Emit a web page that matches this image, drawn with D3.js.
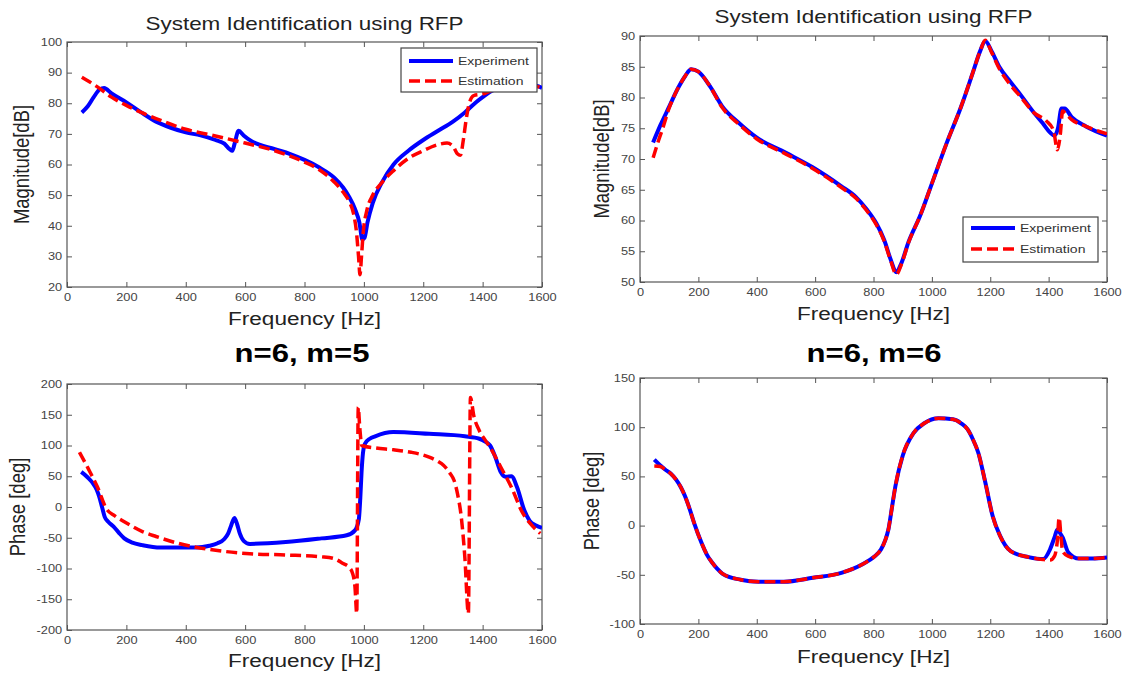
<!DOCTYPE html>
<html>
<head>
<meta charset="utf-8">
<script src="https://cdn.jsdelivr.net/npm/d3@7"></script>
<style>
  body { margin: 0; background: #fff; }
  text { font-family: "Liberation Sans", Arial, sans-serif; }
</style>
</head>
<body>
<div id="chart"></div>
<script>
// ---- data: [frequency Hz, value] ----
const freqTicks = [0, 200, 400, 600, 800, 1000, 1200, 1400, 1600];
const magTicks5 = [20, 30, 40, 50, 60, 70, 80, 90, 100];
const magTicks6 = [50, 55, 60, 65, 70, 75, 80, 85, 90];
const phaseTicks5 = [-200, -150, -100, -50, 0, 50, 100, 150, 200];
const phaseTicks6 = [-100, -50, 0, 50, 100, 150];
const seriesNames = ["Experiment", "Estimation"];

// n=6, m=5 magnitude
const magExp5 = [[50,77],[70,79],[90,82],[110,84.5],[125,85],[150,83.2],[200,80.3],[250,77],[300,74],[350,72],[400,70.5],[450,69.5],[500,68],[530,66.8],[548,65],[557,64.5],[565,67],[578,71],[595,69.5],[620,67.7],[700,65],[750,63.5],[800,61.5],[850,59],[900,55.7],[930,52.5],[950,49.5],[970,45.5],[985,41],[995,35.5],[1002,36],[1012,41],[1030,47.5],[1060,54],[1100,60],[1150,64.5],[1200,68],[1250,71],[1300,74],[1340,77],[1380,80.5],[1400,82],[1430,84],[1470,85.5],[1520,86],[1570,86],[1600,85]];
const magEst5 = [[50,88.5],[100,85.5],[150,82],[200,79.3],[250,77],[300,75],[400,71.5],[500,69.3],[600,67],[700,64.5],[800,60.8],[850,58.3],[900,54.3],[930,51],[950,48],[965,44],[975,38],[982,30],[987,24],[992,30],[998,38],[1010,45],[1030,50],[1060,54],[1100,58],[1150,62],[1200,64.5],[1250,66.5],[1280,67],[1300,66],[1315,63.5],[1325,63],[1335,68],[1345,75],[1355,80],[1370,82.5],[1400,83],[1450,85],[1500,86],[1550,86],[1600,85]];

// n=6, m=6 magnitude
const magExp6 = [[45,72.7],[70,75.5],[100,78.5],[130,81.5],[155,83.5],[175,84.6],[200,84.2],[240,81.8],[281,78.6],[340,75.8],[399,73.5],[500,71],[590,68.7],[689,65.6],[740,63.8],[775,61.9],[810,59.5],[837,56.8],[860,53.5],[878,51.6],[895,53],[920,56.5],[960,60.8],[1000,66],[1050,72.5],[1100,78.5],[1140,84],[1165,87.5],[1183,89.2],[1205,87.5],[1232,84.9],[1270,82.5],[1306,80.3],[1350,77.5],[1380,75.8],[1405,74.3],[1420,73.8],[1432,75],[1444,78.2],[1455,78.2],[1479,76.8],[1528,75.3],[1600,73.8]];
const magEst6 = [[45,70.2],[60,72.5],[80,75.3],[100,78.3],[130,81.5],[155,83.5],[175,84.6],[200,84.2],[240,81.8],[281,78.4],[340,75.6],[399,73.3],[500,70.8],[590,68.5],[689,65.4],[740,63.6],[775,61.7],[810,59.3],[837,56.6],[860,53.3],[878,51.2],[895,52.8],[920,56.4],[960,60.8],[1000,66],[1050,72.5],[1100,78.5],[1140,84],[1165,87.5],[1183,89.3],[1205,87.3],[1232,84.6],[1270,82],[1306,80],[1350,77.5],[1392,76.2],[1417,74.6],[1430,71.5],[1440,74],[1448,77.8],[1460,77.3],[1479,76.4],[1528,75.3],[1600,74.1]];

// n=6, m=5 phase
const phaseExp5 = [[48,57],[70,48],[85,40],[100,28],[109,16],[118,0],[127,-16],[139,-24],[157,-32],[175,-42],[193,-51],[220,-58],[254,-62],[314,-66],[435,-66],[480,-63],[507,-59],[530,-52],[543,-43],[553,-30],[564,-18],[573,-28],[582,-43],[595,-55],[616,-60],[737,-57],[857,-51],[942,-46],[970,-38],[983,-20],[988,15],[992,55],[997,88],[1004,103],[1020,111],[1038,115],[1099,122],[1220,119],[1340,115],[1389,111],[1410,106],[1425,100],[1443,81],[1461,57],[1479,49],[1497,50],[1516,32],[1540,-5],[1558,-22],[1580,-30],[1600,-34]];
const phaseEst5 = [[42,89],[72,62],[103,32],[133,-3],[160,-14],[193,-24],[254,-40],[300,-48],[374,-59],[495,-70],[616,-76],[737,-78],[857,-81],[900,-84],[930,-92],[950,-98],[962,-108],[970,-130],[976,-173],[981,162],[986,130],[993,100],[1038,96],[1100,93],[1159,89],[1220,81],[1250,74],[1268,68],[1290,55],[1304,43],[1316,20],[1328,-16],[1340,-81],[1352,-173],[1359,178],[1370,149],[1389,124],[1410,108],[1425,97],[1461,65],[1497,32],[1533,-8],[1570,-32],[1594,-43]];

// n=6, m=6 phase
const phaseExp6 = [[49,67],[70,61],[86,57],[105,53],[123,47],[140,39],[154,30],[170,17],[185,3],[210,-17],[230,-30],[247,-37.5],[265,-44],[283,-49],[345,-55],[407,-57],[493,-57],[592,-53],[690,-48],[764,-39],[801,-32],[826,-24],[840,-15],[851,-4],[863,18],[875,40],[900,71],[937,94],[974,104],[1023,109],[1072,108],[1100,104],[1122,98],[1140,88],[1159,74],[1183,44],[1208,10],[1233,-10],[1270,-26],[1331,-32],[1381,-34],[1405,-24],[1420,-12],[1430,-4],[1440,-8],[1448,-12],[1467,-27],[1504,-33.5],[1550,-33.5],[1600,-32.5]];
const phaseEst6 = [[49,60.5],[70,60],[86,57],[105,53],[123,47],[140,39],[154,30],[170,17],[185,3],[210,-17],[230,-30],[247,-37.5],[265,-44],[283,-49],[345,-55],[407,-57],[493,-57],[592,-53],[690,-48],[764,-39],[801,-32],[826,-24],[840,-15],[851,-4],[863,18],[875,40],[900,71],[937,94],[974,104],[1023,109],[1072,108],[1100,104],[1122,98],[1140,88],[1159,74],[1183,44],[1208,10],[1233,-10],[1270,-26],[1331,-32],[1381,-34.5],[1405,-35],[1420,-31],[1430,-15],[1436,8],[1442,-10],[1448,-26],[1467,-31],[1504,-33.5],[1550,-33.5],[1600,-32.5]];

// the source picture is stretched sideways, so text is too
const SX = 1.22;
const blue = "#0000ff", red = "#ff0000";

const svg = d3.select("#chart").append("svg")
    .attr("width", 1126)
    .attr("height", 673);

function addText(g, x, y, str, size, opts = {}) {
  return g.append("text")
    .attr("transform", `translate(${x},${y}) scale(${SX},1)` + (opts.rotate ? " rotate(-90)" : ""))
    .attr("text-anchor", opts.anchor || "middle")
    .attr("font-size", size + "px")
    .attr("font-weight", opts.bold ? "bold" : "normal")
    .attr("fill", opts.color || "#222")
    .text(str);
}

function drawPanel(p) {
  const w = p.right - p.left, h = p.bottom - p.top;
  const g = svg.append("g").attr("transform", `translate(${p.left},${p.top})`);

  const x = d3.scaleLinear().domain([0, 1600]).range([0, w]);
  const y = d3.scaleLinear().domain(d3.extent(p.yTicks)).range([h, 0]);

  const clipId = "clip" + p.id;
  g.append("clipPath").attr("id", clipId)
    .append("rect").attr("width", w).attr("height", h);

  // axes, ticks pointing inward on all four sides
  const styleAxis = a => {
    a.select(".domain").remove();
    a.selectAll(".tick line").attr("stroke", "#555");
    a.selectAll(".tick text")
      .attr("fill", "#444")
      .attr("font-size", "10.5px")
      .attr("font-family", "Liberation Sans, Arial, sans-serif")
      .attr("transform", `scale(${SX},1)`);
  };
  g.append("g").attr("transform", `translate(0,${h})`)
    .call(d3.axisBottom(x).tickValues(freqTicks).tickSizeInner(-5).tickSizeOuter(0).tickPadding(7).tickFormat(d => String(d)))
    .call(styleAxis);
  g.append("g")
    .call(d3.axisLeft(y).tickValues(p.yTicks).tickSizeInner(-5).tickSizeOuter(0).tickPadding(4).tickFormat(d => String(d)))
    .call(styleAxis);
  g.append("g")
    .call(d3.axisTop(x).tickValues(freqTicks).tickSizeInner(-5).tickSizeOuter(0).tickFormat(""))
    .call(styleAxis);
  g.append("g").attr("transform", `translate(${w},0)`)
    .call(d3.axisRight(y).tickValues(p.yTicks).tickSizeInner(-5).tickSizeOuter(0).tickFormat(""))
    .call(styleAxis);

  g.append("rect")
    .attr("width", w).attr("height", h)
    .attr("fill", "none")
    .attr("stroke", "#555")
    .attr("stroke-width", 1.2);

  const line = d3.line()
    .x(d => x(d[0]))
    .y(d => y(d[1]))
    .curve(d3.curveMonotoneX);

  const lines = g.append("g").attr("clip-path", `url(#${clipId})`);
  lines.append("path")
    .datum(p.exp)
    .attr("d", line)
    .attr("fill", "none")
    .attr("stroke", blue)
    .attr("stroke-width", 4)
    .attr("stroke-linejoin", "round");
  lines.append("path")
    .datum(p.est)
    .attr("d", line)
    .attr("fill", "none")
    .attr("stroke", red)
    .attr("stroke-width", 3.5)
    .attr("stroke-dasharray", "11,5");

  // labels
  addText(svg, (p.left + p.right) / 2, p.xLabelY, "Frequency [Hz]", 18.5);
  addText(svg, p.yLabelX, (p.top + p.bottom) / 2, p.yLabel, 18.5, {rotate: true});
  if (p.title) addText(svg, (p.left + p.right) / 2, p.titleY, p.title, 18.4, {color: "#222"});
  if (p.heading) addText(svg, p.headingX, p.headingY, p.heading, 25.5, {bold: true, color: "#000"});

  // legend
  if (p.legend) {
    const L = p.legend;
    const lg = svg.append("g").attr("transform", `translate(${L.x},${L.y})`);
    lg.append("rect")
      .attr("width", L.w).attr("height", L.h)
      .attr("fill", "#fff").attr("stroke", "#444").attr("stroke-width", 1.2);
    seriesNames.forEach((name, i) => {
      const ly = L.row0 + i * L.rowGap;
      lg.append("line")
        .attr("x1", 8).attr("x2", 52).attr("y1", ly).attr("y2", ly)
        .attr("stroke", i === 0 ? blue : red)
        .attr("stroke-width", i === 0 ? 4 : 3.5)
        .attr("stroke-dasharray", i === 0 ? null : "11,5");
      addText(lg, 57, ly + 4, name, 11.5, {anchor: "start", color: "#333"});
    });
  }
}

drawPanel({
  id: 1, left: 67, right: 542, top: 42, bottom: 287,
  yTicks: magTicks5, exp: magExp5, est: magEst5,
  yLabel: "Magnitude[dB]", yLabelX: 29, xLabelY: 325,
  title: "System Identification using RFP", titleY: 30,
  legend: {x: 401, y: 48, w: 136, h: 44, row0: 13, rowGap: 20}
});
drawPanel({
  id: 2, left: 640, right: 1107, top: 36, bottom: 282,
  yTicks: magTicks6, exp: magExp6, est: magEst6,
  yLabel: "Magnitude[dB]", yLabelX: 609, xLabelY: 320,
  title: "System Identification using RFP", titleY: 23,
  legend: {x: 963, y: 217, w: 135, h: 45, row0: 11, rowGap: 21}
});
drawPanel({
  id: 3, left: 67, right: 542, top: 384, bottom: 630,
  yTicks: phaseTicks5, exp: phaseExp5, est: phaseEst5,
  yLabel: "Phase [deg]", yLabelX: 25, xLabelY: 667,
  heading: "n=6, m=5", headingX: 302, headingY: 362
});
drawPanel({
  id: 4, left: 640, right: 1107, top: 378, bottom: 624,
  yTicks: phaseTicks6, exp: phaseExp6, est: phaseEst6,
  yLabel: "Phase [deg]", yLabelX: 599, xLabelY: 663,
  heading: "n=6, m=6", headingX: 874, headingY: 362
});
</script>
</body>
</html>
